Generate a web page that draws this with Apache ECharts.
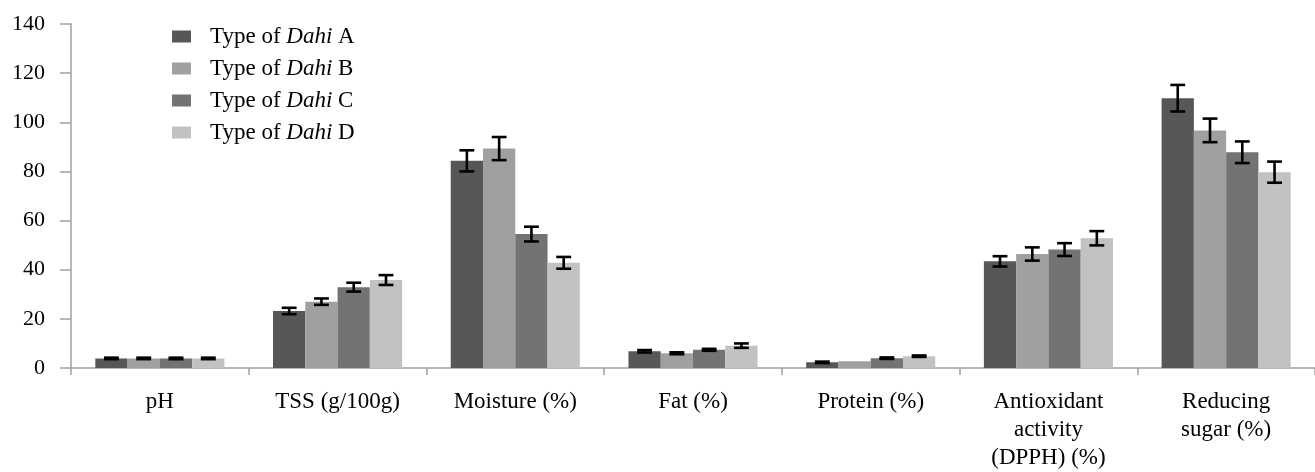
<!DOCTYPE html>
<html>
<head>
<meta charset="utf-8">
<script src="https://cdn.jsdelivr.net/npm/echarts@6/dist/echarts.min.js"></script>
<style>html,body{margin:0;padding:0;background:#fff;}#c{width:1315px;height:472px;}</style>
</head>
<body>
<div id="c"></div>
<script>
const categories = ['pH', 'TSS (g/100g)', 'Moisture (%)', 'Fat (%)', 'Protein (%)', 'Antioxidant\nactivity\n(DPPH) (%)', 'Reducing\nsugar (%)'];
const seriesNames = ['Type of Dahi A', 'Type of Dahi B', 'Type of Dahi C', 'Type of Dahi D'];
const dahiA = [3.9, 23.2, 84.3, 6.8, 2.3, 43.4, 109.8];
const dahiB = [3.9, 27.0, 89.3, 6.0, 2.7, 46.4, 96.7];
const dahiC = [3.9, 32.9, 54.5, 7.4, 4.0, 48.2, 87.8];
const dahiD = [3.9, 35.8, 42.8, 9.1, 4.8, 52.8, 79.7];
const errA = [0.3, 1.3, 4.3, 0.5, 0.3, 2.1, 5.4];
const errB = [0.3, 1.3, 4.7, 0.4, 0, 2.7, 4.8];
const errC = [0.3, 1.8, 3.0, 0.4, 0.3, 2.6, 4.4];
const errD = [0.3, 2.0, 2.4, 0.9, 0.3, 2.9, 4.3];
const yTicks = [0, 20, 40, 60, 80, 100, 120, 140];

const values = [dahiA, dahiB, dahiC, dahiD];
const errs = [errA, errB, errC, errD];
const colors = ['#575757', '#a0a0a0', '#737373', '#c2c2c2'];
const BAR_FRAC = 0.1816;
const FONT = 'Liberation Serif';

function errRender(k) {
  return function (params, api) {
    const i = api.value(0);
    const lo = api.coord([i, api.value(1)]);
    const hi = api.coord([i, api.value(2)]);
    const band = api.size([1, 0])[0];
    const bw = band * BAR_FRAC;
    const x = lo[0] + (k - 1.5) * bw;
    const cap = bw * 0.23;
    const st = { stroke: '#000', lineWidth: 2.6, fill: null };
    return {
      type: 'group',
      children: [
        { type: 'line', shape: { x1: x, y1: lo[1], x2: x, y2: hi[1] }, style: st },
        { type: 'line', shape: { x1: x - cap, y1: lo[1], x2: x + cap, y2: lo[1] }, style: st },
        { type: 'line', shape: { x1: x - cap, y1: hi[1], x2: x + cap, y2: hi[1] }, style: st }
      ]
    };
  };
}

const series = [];
seriesNames.forEach((n, k) => {
  series.push({
    name: n, type: 'bar', data: values[k], barWidth: (BAR_FRAC * 100) + '%', barGap: '0%',
    itemStyle: { color: colors[k] }, animation: false
  });
});
seriesNames.forEach((n, k) => {
  const d = [];
  values[k].forEach((v, i) => { if (errs[k][i] > 0) d.push([i, v - errs[k][i], v + errs[k][i]]); });
  series.push({
    name: 'err' + k, type: 'custom', renderItem: errRender(k), data: d,
    encode: { x: 0, y: [1, 2] }, z: 5, animation: false, silent: true
  });
});

const chart = echarts.init(document.getElementById('c'), null, { renderer: 'canvas' });
chart.setOption({
  backgroundColor: '#fff',
  animation: false,
  grid: { left: 71, top: 24, width: 1253, bottom: 101, containLabel: false },
  legend: {
    data: seriesNames,
    orient: 'vertical',
    left: 167, top: 20,
    icon: 'rect', itemWidth: 19, itemHeight: 12, itemGap: 9,
    formatter: function (name) {
      const letter = name.slice(-1);
      return '{n|Type of }{i|Dahi}{n| ' + letter + '}';
    },
    textStyle: {
      fontFamily: FONT, fontSize: 23, color: '#000', padding: [0, 0, 0, 14],
      rich: {
        n: { fontFamily: FONT, fontSize: 23, color: '#000' },
        i: { fontFamily: FONT, fontSize: 23, color: '#000', fontStyle: 'italic' }
      }
    }
  },
  xAxis: {
    type: 'category', data: categories, boundaryGap: true,
    axisLine: { lineStyle: { color: '#a0a0a0', width: 1.5 } },
    axisTick: { show: true, length: 7, alignWithLabel: false, lineStyle: { color: '#a0a0a0', width: 1.5 } },
    axisLabel: { fontFamily: FONT, fontSize: 23, color: '#000', lineHeight: 28, margin: 20, interval: 0 }
  },
  yAxis: {
    type: 'value', min: 0, max: 140, interval: 20,
    axisLine: { show: true, lineStyle: { color: '#a0a0a0', width: 1.5 } },
    axisTick: { show: true, length: 11, lineStyle: { color: '#a0a0a0', width: 1.5 } },
    splitLine: { show: false },
    axisLabel: {
      fontFamily: FONT, fontSize: 22, color: '#000', margin: 26,
      formatter: function (v) { return yTicks.indexOf(v) >= 0 ? String(v) : ''; }
    }
  },
  series: series
});
</script>
</body>
</html>
